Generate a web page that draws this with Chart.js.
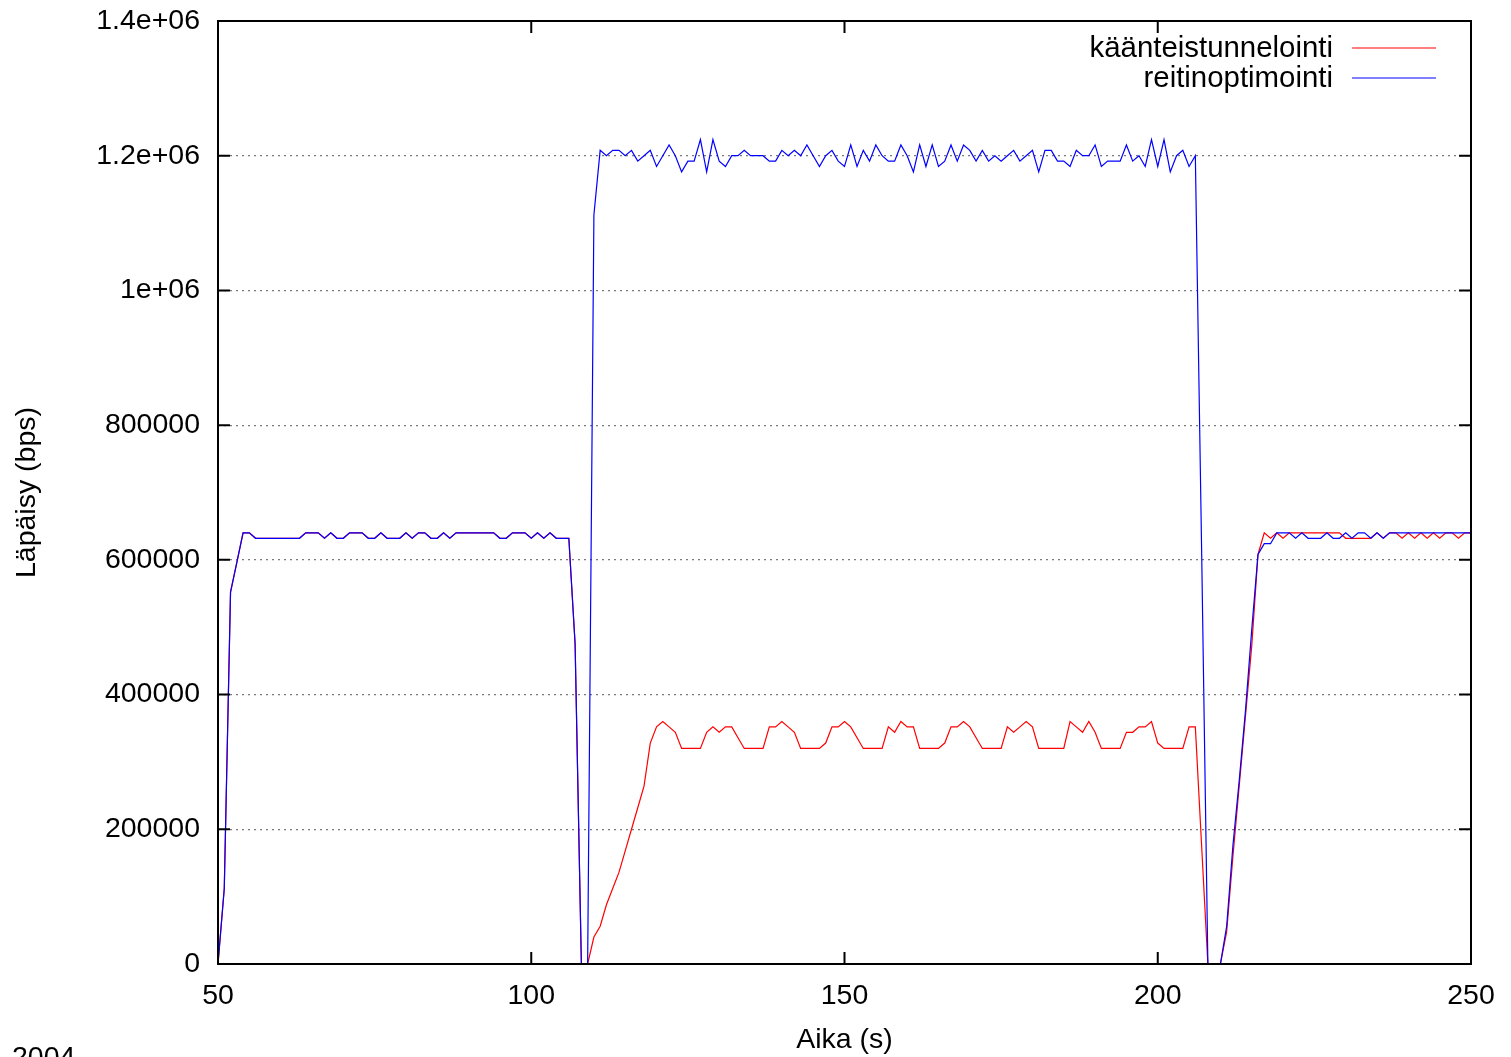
<!DOCTYPE html>
<html lang="fi">
<head>
    <meta charset="UTF-8">
    <title>Läpäisy</title>
    <script src="https://cdn.jsdelivr.net/npm/chart.js"></script>
    <style>
        body { margin: 0; background: #ffffff; }
        canvas { display: block; }
    </style>
</head>
<body>
    <canvas id="throughput" width="1511" height="1057"></canvas>

    <script>
        // Aika (s), one sample per second
        const seconds = [
             50,  51,  52,  53,  54,  55,  56,  57,  58,  59,
             60,  61,  62,  63,  64,  65,  66,  67,  68,  69,
             70,  71,  72,  73,  74,  75,  76,  77,  78,  79,
             80,  81,  82,  83,  84,  85,  86,  87,  88,  89,
             90,  91,  92,  93,  94,  95,  96,  97,  98,  99,
            100, 101, 102, 103, 104, 105, 106, 107, 108, 109,
            110, 111, 112, 113, 114, 115, 116, 117, 118, 119,
            120, 121, 122, 123, 124, 125, 126, 127, 128, 129,
            130, 131, 132, 133, 134, 135, 136, 137, 138, 139,
            140, 141, 142, 143, 144, 145, 146, 147, 148, 149,
            150, 151, 152, 153, 154, 155, 156, 157, 158, 159,
            160, 161, 162, 163, 164, 165, 166, 167, 168, 169,
            170, 171, 172, 173, 174, 175, 176, 177, 178, 179,
            180, 181, 182, 183, 184, 185, 186, 187, 188, 189,
            190, 191, 192, 193, 194, 195, 196, 197, 198, 199,
            200, 201, 202, 203, 204, 205, 206, 207, 208, 209,
            210, 211, 212, 213, 214, 215, 216, 217, 218, 219,
            220, 221, 222, 223, 224, 225, 226, 227, 228, 229,
            230, 231, 232, 233, 234, 235, 236, 237, 238, 239,
            240, 241, 242, 243, 244, 245, 246, 247, 248, 249,
            250
        ];

        // käänteistunnelointi (bps)
        const reverseTunnel = [
            0, 112000, 552000, 596000, 640000, 640000, 632000, 632000, 632000, 632000,
            632000, 632000, 632000, 632000, 640000, 640000, 640000, 632000, 640000, 632000,
            632000, 640000, 640000, 640000, 632000, 632000, 640000, 632000, 632000, 632000,
            640000, 632000, 640000, 640000, 632000, 632000, 640000, 632000, 640000, 640000,
            640000, 640000, 640000, 640000, 640000, 632000, 632000, 640000, 640000, 640000,
            632000, 640000, 632000, 640000, 632000, 632000, 632000, 475000, 0, 0,
            40000, 56000, 88000, 112000, 136000, 168000, 200000, 232000, 264000, 328000,
            352000, 360000, 352000, 344000, 320000, 320000, 320000, 320000, 344000, 352000,
            344000, 352000, 352000, 336000, 320000, 320000, 320000, 320000, 352000, 352000,
            360000, 352000, 344000, 320000, 320000, 320000, 320000, 328000, 352000, 352000,
            360000, 352000, 336000, 320000, 320000, 320000, 320000, 352000, 344000, 360000,
            352000, 352000, 320000, 320000, 320000, 320000, 328000, 352000, 352000, 360000,
            352000, 336000, 320000, 320000, 320000, 320000, 352000, 344000, 352000, 360000,
            352000, 320000, 320000, 320000, 320000, 320000, 360000, 352000, 344000, 360000,
            344000, 320000, 320000, 320000, 320000, 344000, 344000, 352000, 352000, 360000,
            328000, 320000, 320000, 320000, 320000, 352000, 352000, 176000, 0, 0,
            0, 48000, 160000, 264000, 368000, 472000, 608000, 640000, 632000, 640000,
            632000, 640000, 640000, 640000, 640000, 640000, 640000, 640000, 640000, 640000,
            632000, 632000, 632000, 632000, 632000, 640000, 632000, 640000, 640000, 632000,
            640000, 632000, 640000, 632000, 640000, 632000, 640000, 640000, 632000, 640000,
            640000
        ];

        // reitinoptimointi (bps)
        const routeOptimization = [
            0, 112000, 552000, 596000, 640000, 640000, 632000, 632000, 632000, 632000,
            632000, 632000, 632000, 632000, 640000, 640000, 640000, 632000, 640000, 632000,
            632000, 640000, 640000, 640000, 632000, 632000, 640000, 632000, 632000, 632000,
            640000, 632000, 640000, 640000, 632000, 632000, 640000, 632000, 640000, 640000,
            640000, 640000, 640000, 640000, 640000, 632000, 632000, 640000, 640000, 640000,
            632000, 640000, 632000, 640000, 632000, 632000, 632000, 475000, 0, 0,
            1112000, 1208000, 1200000, 1208000, 1208000, 1200000, 1208000, 1192000, 1200000, 1208000,
            1184000, 1200000, 1216000, 1200000, 1176000, 1192000, 1192000, 1224000, 1176000, 1224000,
            1192000, 1184000, 1200000, 1200000, 1208000, 1200000, 1200000, 1200000, 1192000, 1192000,
            1208000, 1200000, 1208000, 1200000, 1216000, 1200000, 1184000, 1200000, 1208000, 1192000,
            1184000, 1216000, 1184000, 1208000, 1192000, 1216000, 1200000, 1192000, 1192000, 1216000,
            1200000, 1176000, 1216000, 1184000, 1216000, 1184000, 1192000, 1216000, 1192000, 1216000,
            1208000, 1192000, 1208000, 1192000, 1200000, 1192000, 1200000, 1208000, 1192000, 1200000,
            1208000, 1176000, 1208000, 1208000, 1192000, 1192000, 1184000, 1208000, 1200000, 1200000,
            1216000, 1184000, 1192000, 1192000, 1192000, 1216000, 1192000, 1200000, 1184000, 1224000,
            1184000, 1224000, 1176000, 1200000, 1208000, 1184000, 1200000, 616000, 0, 0,
            0, 56000, 176000, 272000, 376000, 496000, 608000, 624000, 624000, 640000,
            640000, 640000, 632000, 640000, 632000, 632000, 632000, 640000, 632000, 632000,
            640000, 632000, 640000, 640000, 632000, 640000, 632000, 640000, 640000, 640000,
            640000, 640000, 640000, 640000, 640000, 640000, 640000, 640000, 640000, 640000,
            640000
        ];

        const seriesNames = ['käänteistunnelointi', 'reitinoptimointi'];
        const xTicks = [50, 100, 150, 200, 250];
        const yTickLabels = ['0', '200000', '400000', '600000', '800000', '1e+06', '1.2e+06', '1.4e+06'];

        const FONT = '"Liberation Sans", Arial, sans-serif';
        const FONT_SIZE = 28.5;

        // gnuplot style: border, inward ticks on all four sides, legend, date stamp
        const gnuplotFrame = {
            id: 'gnuplotFrame',
            afterDatasetsDraw(chart) {
                const { ctx, chartArea: a, scales } = chart;
                ctx.save();
                ctx.strokeStyle = '#000';
                ctx.lineWidth = 2;
                ctx.beginPath();
                scales.x.ticks.forEach(t => {
                    const px = scales.x.getPixelForValue(t.value);
                    ctx.moveTo(px, a.bottom); ctx.lineTo(px, a.bottom - 12);
                    ctx.moveTo(px, a.top); ctx.lineTo(px, a.top + 12);
                });
                scales.y.ticks.forEach(t => {
                    const py = scales.y.getPixelForValue(t.value);
                    ctx.moveTo(a.left, py); ctx.lineTo(a.left + 12, py);
                    ctx.moveTo(a.right, py); ctx.lineTo(a.right - 12, py);
                });
                ctx.stroke();
                ctx.strokeRect(a.left, a.top, a.right - a.left, a.bottom - a.top);

                // legend: text right aligned, line sample after it
                ctx.font = '29.4px ' + FONT;
                ctx.textAlign = 'right';
                ctx.textBaseline = 'middle';
                chart.data.datasets.forEach((ds, i) => {
                    const y = 48 + i * 30;
                    ctx.fillStyle = '#000';
                    ctx.fillText(ds.label, 1333, y + 1);
                    ctx.strokeStyle = ds.borderColor;
                    ctx.lineWidth = 1.2;
                    ctx.beginPath();
                    ctx.moveTo(1352, y); ctx.lineTo(1436, y);
                    ctx.stroke();
                });

                ctx.font = FONT_SIZE + 'px ' + FONT;
                ctx.textAlign = 'left';
                ctx.textBaseline = 'alphabetic';
                ctx.fillStyle = '#000';
                ctx.fillText('2004', 12, 1066);
                ctx.restore();
            }
        };

        const ctx = document.getElementById('throughput').getContext('2d');
        new Chart(ctx, {
            type: 'line',
            data: {
                datasets: [
                    {
                        label: seriesNames[0],
                        data: seconds.map((s, i) => ({ x: s, y: reverseTunnel[i] })),
                        borderColor: '#ff0000',
                        borderWidth: 1.2,
                        order: 1
                    },
                    {
                        label: seriesNames[1],
                        data: seconds.map((s, i) => ({ x: s, y: routeOptimization[i] })),
                        borderColor: '#0000ff',
                        borderWidth: 1.2,
                        order: 0
                    }
                ]
            },
            options: {
                responsive: false,
                animation: false,
                devicePixelRatio: 1,
                layout: { padding: { top: 21, right: 40, left: 0, bottom: 0 } },
                elements: { point: { radius: 0 }, line: { tension: 0 } },
                plugins: { legend: { display: false }, tooltip: { enabled: false } },
                scales: {
                    x: {
                        type: 'linear',
                        min: 50,
                        max: 250,
                        afterBuildTicks: scale => { scale.ticks = xTicks.map(v => ({ value: v })); },
                        afterFit: scale => {
                            scale.height = 93;
                            scale.paddingLeft = 0;
                            scale.paddingRight = 0;
                        },
                        grid: { display: false, drawTicks: false },
                        border: { display: false },
                        ticks: {
                            padding: 15,
                            color: '#000',
                            font: { family: FONT, size: FONT_SIZE },
                            maxRotation: 0
                        },
                        title: {
                            display: true,
                            text: 'Aika (s)',
                            color: '#000',
                            font: { family: FONT, size: FONT_SIZE },
                            padding: { top: 0, bottom: 0 }
                        }
                    },
                    y: {
                        min: 0,
                        max: 1400000,
                        afterBuildTicks: scale => {
                            scale.ticks = yTickLabels.map((_, i) => ({ value: i * 200000 }));
                        },
                        afterFit: scale => {
                            scale.width = 218;
                            scale.paddingTop = 0;
                            scale.paddingBottom = 0;
                        },
                        grid: {
                            drawTicks: false,
                            color: c => (c.index === 0 || c.index === yTickLabels.length - 1) ? 'rgba(0,0,0,0)' : '#7a7a7a',
                            lineWidth: 1.2
                        },
                        border: { display: false, dash: [2, 4] },
                        ticks: {
                            padding: 18,
                            color: '#000',
                            font: { family: FONT, size: FONT_SIZE },
                            callback: (value, index) => yTickLabels[index]
                        },
                        title: {
                            display: true,
                            text: 'Läpäisy (bps)',
                            color: '#000',
                            font: { family: FONT, size: FONT_SIZE },
                            padding: { top: 10, bottom: 0 }
                        }
                    }
                }
            },
            plugins: [gnuplotFrame]
        });
    </script>
</body>
</html>
